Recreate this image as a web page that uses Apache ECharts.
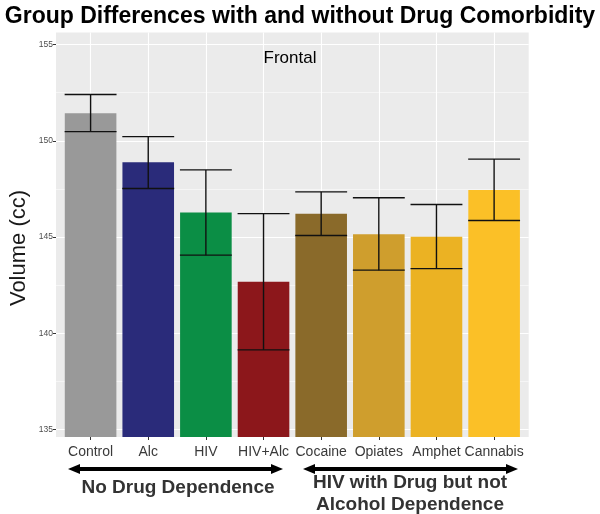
<!DOCTYPE html>
<html><head><meta charset="utf-8">
<script src="https://cdn.jsdelivr.net/npm/echarts@6/dist/echarts.min.js"></script>
<style>html,body{margin:0;padding:0;background:#fff}#c{width:600px;height:514px}</style>
</head><body><div id="c"></div>
<script>
const categories = ['Control','Alc','HIV','HIV+Alc','Cocaine','Opiates','Amphet','Cannabis'];
const means = [151.44,148.89,146.27,142.68,146.21,145.15,145.01,147.44];
const errLow = [150.48,147.52,144.06,139.14,145.08,143.28,143.36,145.86];
const errHigh = [152.41,150.22,148.49,146.22,147.35,147.04,146.69,149.05];
const barColors = ['#999999','#2A2B7A','#0B8E45','#8C171B','#8A6A2A','#CF9E2D','#EBB223','#FBC027'];
const yTicks = [135,140,145,150,155];
const yMinorTicks = [137.5,142.5,147.5,152.5];
const xPositions = categories.map((c,i)=>i+1);

const FONT = 'Liberation Sans, Arial, sans-serif';
const chart = echarts.init(document.getElementById('c'), null, {renderer:'canvas'});
const barData = means.map((v,i)=>({value:[xPositions[i], v], itemStyle:{color:barColors[i]}}));
const errData = means.map((v,i)=>[xPositions[i], errLow[i], errHigh[i]]);

function arrow(x1,x2,y){
  const h=5, L=12;
  return [
    {type:'line', shape:{x1:x1+L-2,y1:y,x2:x2-L+2,y2:y}, style:{stroke:'#000',lineWidth:4}},
    {type:'polygon', shape:{points:[[x1,y],[x1+L,y-h],[x1+L,y+h]]}, style:{fill:'#000'}},
    {type:'polygon', shape:{points:[[x2,y],[x2-L,y-h],[x2-L,y+h]]}, style:{fill:'#000'}}
  ];
}

chart.setOption({
  animation:false,
  backgroundColor:'#ffffff',
  title:{text:'Group Differences with and without Drug Comorbidity', left:'center', top:0,
    textStyle:{fontFamily:FONT, fontWeight:'bold', fontSize:23, color:'#000'}},
  grid:{left:56, right:71.3, top:32.5, bottom:77, show:true, backgroundColor:'#EBEBEB', borderWidth:0, outerBoundsMode:'none', containLabel:false},
  xAxis:{type:'value', min:0.4, max:8.6,
    axisLine:{show:false},
    axisTick:{show:true, customValues:xPositions, length:3, lineStyle:{color:'#333'}},
    axisLabel:{customValues:xPositions, formatter:v=>categories[Math.round(v)-1], fontFamily:FONT, fontSize:14, color:'#3a3a3a', margin:8},
    splitLine:{show:true, lineStyle:{color:'#ffffff', width:1.1}}
  },
  yAxis:[{type:'value', min:134.61, max:155.63,
    axisLine:{show:false},
    axisTick:{show:true, customValues:yTicks, length:3, lineStyle:{color:'#333'}},
    axisLabel:{customValues:yTicks, fontFamily:FONT, fontSize:8.5, color:'#4d4d4d', margin:3},
    splitLine:{show:true, lineStyle:{color:'#ffffff', width:1.1}}
  },{type:'value', min:134.61, max:155.63, position:'left',
    axisLine:{show:false}, axisTick:{show:false, customValues:yMinorTicks}, axisLabel:{show:false, customValues:yMinorTicks},
    splitLine:{show:true, lineStyle:{color:'#ffffff', width:0.5}}
  }],
  series:[{type:'bar', data:barData, barWidth:51.6, yAxisIndex:0, z:3},
    {type:'custom', data:errData, yAxisIndex:0, z:5,
      renderItem:function(params, api){
        const x=api.value(0), lo=api.value(1), hi=api.value(2);
        const pLo=api.coord([x,lo]), pHi=api.coord([x,hi]);
        const hw=api.size([0.9,0])[0]/2;
        const st={stroke:'#111', lineWidth:1.4};
        return {type:'group', children:[
          {type:'line', shape:{x1:pLo[0],y1:pLo[1],x2:pHi[0],y2:pHi[1]}, style:st},
          {type:'line', shape:{x1:pLo[0]-hw,y1:pLo[1],x2:pLo[0]+hw,y2:pLo[1]}, style:st},
          {type:'line', shape:{x1:pHi[0]-hw,y1:pHi[1],x2:pHi[0]+hw,y2:pHi[1]}, style:st}
        ]};
      }}
  ],
  graphic:[
    {type:'text', x:19, y:248, rotation:Math.PI/2, style:{text:'Volume (cc)', fontFamily:FONT, fontSize:22, fill:'#1a1a1a', textAlign:'center', textVerticalAlign:'middle'}},
    {type:'text', x:290, y:58, style:{text:'Frontal', fontFamily:FONT, fontSize:17, fill:'#000', textAlign:'center', textVerticalAlign:'middle'}, z:10},
    ...arrow(68,283,469),
    ...arrow(303,518,469),
    {type:'text', x:178, y:488, style:{text:'No Drug Dependence', fontFamily:FONT, fontWeight:'bold', fontSize:19, fill:'#333', textAlign:'center', textVerticalAlign:'middle'}},
    {type:'text', x:410, y:483, style:{text:'HIV with Drug but not', fontFamily:FONT, fontWeight:'bold', fontSize:19, fill:'#333', textAlign:'center', textVerticalAlign:'middle'}},
    {type:'text', x:410, y:505, style:{text:'Alcohol Dependence', fontFamily:FONT, fontWeight:'bold', fontSize:19, fill:'#333', textAlign:'center', textVerticalAlign:'middle'}}
  ]
});
</script></body></html>
